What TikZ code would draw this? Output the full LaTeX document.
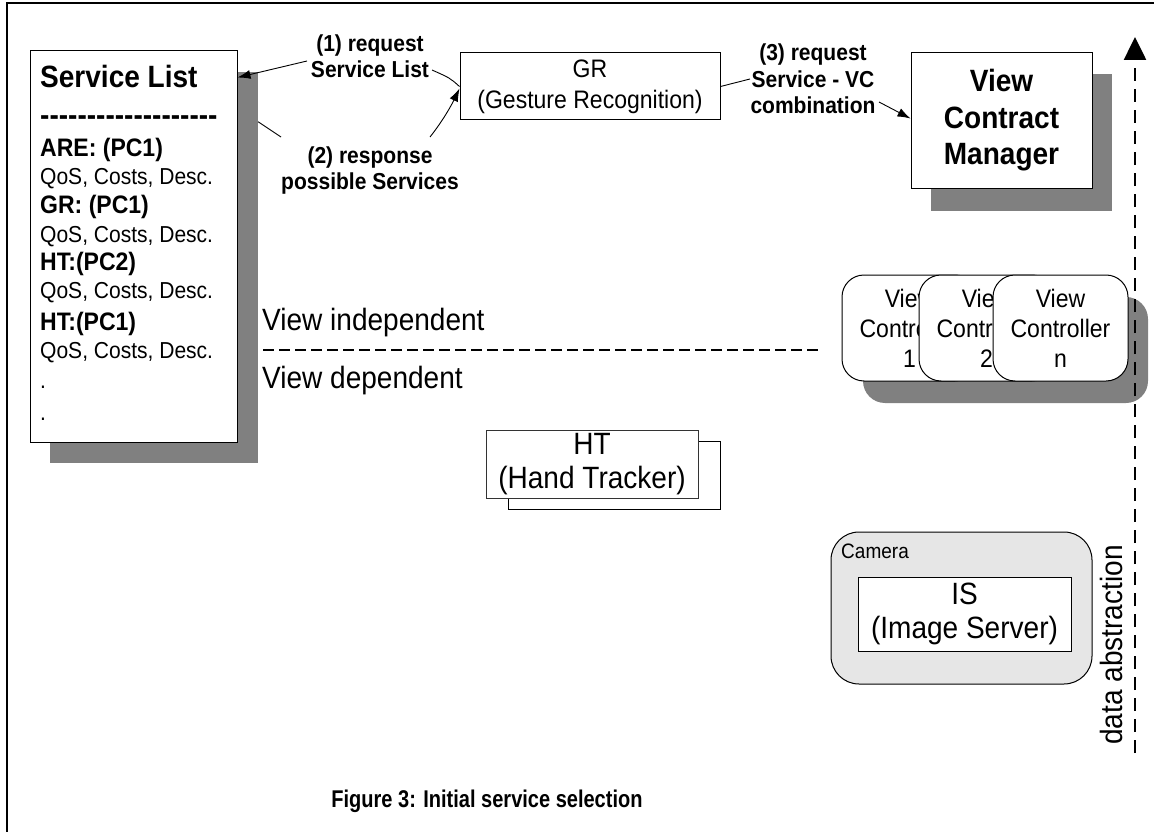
\documentclass[tikz,border=0pt]{standalone}
\usepackage{fontspec}
\setmainfont{Liberation Sans}[Scale=1.1, FakeStretch=0.91]
\newfontfamily\nolig{Liberation Sans}[Ligatures=TeXOff, Scale=1.1, FakeStretch=0.91]
\usetikzlibrary{arrows.meta}
\definecolor{shad}{RGB}{128,128,128}
\definecolor{camfill}{RGB}{230,230,230}
\begin{document}
\begin{tikzpicture}[x=1pt,y=-1pt,
  box/.style={draw=black, line width=1pt, fill=white, inner sep=0pt, align=center},
  shadowbox/.style={fill=shad, draw=none, inner sep=0pt},
  conn/.style={line width=0.9pt},
  arr/.style={line width=0.9pt, -{Latex[length=13pt,width=9pt]}},
  lbl/.style={font=\fontsize{21}{26.5}\selectfont\bfseries, align=center, inner sep=0pt},
  sltxt/.style={anchor=base west, inner sep=0pt, font=\fontsize{21}{25}\selectfont},
  slbold/.style={anchor=base west, inner sep=0pt, font=\fontsize{23}{27}\selectfont\bfseries},
  vcbox/.style={draw=black, line width=1pt, fill=white, rounded corners=22pt, inner sep=0pt,
    minimum width=135pt, minimum height=106pt, align=center, font=\fontsize{23}{30}\selectfont},
]
\useasboundingbox (0,0) rectangle (1154,832);
% frame
\draw[line width=2.5pt] (7,832) -- (7,3) -- (1154,3);

% Service List
\node[shadowbox, minimum width=208pt, minimum height=391pt] (slsh) at (154,267.5) {};
\node[box, minimum width=207pt, minimum height=391pt] (sl) at (133.5,246.5) {};
\node[anchor=base west, inner sep=0pt, font=\fontsize{28}{30}\selectfont\bfseries] (slh) at (40,88) {Service List};
\node[anchor=base west, inner sep=0pt, font=\fontsize{28}{30}\nolig\bfseries] (sld) at (40,126) {-------------------};
\node[slbold] (s1) at (40,157) {ARE: (PC1)};
\node[sltxt] (s2) at (40,184) {QoS, Costs, Desc.};
\node[slbold] (s3) at (40,213) {GR: (PC1)};
\node[sltxt] (s4) at (40,242) {QoS, Costs, Desc.};
\node[slbold] (s5) at (40,270) {HT:(PC2)};
\node[sltxt] (s6) at (40,298) {QoS, Costs, Desc.};
\node[slbold] (s7) at (40,330) {HT:(PC1)};
\node[sltxt] (s8) at (40,358) {QoS, Costs, Desc.};
\node[sltxt] (s9) at (40,388) {.};
\node[sltxt] (s10) at (40,420) {.};

% GR
\node[box, minimum width=260pt, minimum height=67pt, font=\fontsize{23}{31}\selectfont] (gr) at (590,86.5) {GR\\(Gesture Recognition)};

% View Contract Manager
\node[shadowbox, minimum width=181pt, minimum height=137pt] (vcmsh) at (1021.5,142.5) {};
\node[box, minimum width=181pt, minimum height=135pt, font=\fontsize{28}{36.5}\selectfont\bfseries] (vcm) at (1001.5,120.5) {View\\Contract\\Manager};

% labels
\node[lbl] (lbl1) at (370,56) {(1) request\\Service List};
\node[lbl] (lbl2) at (370,170.5) {(2) response\\possible Services};
\node[lbl] (lbl3) at (813,79) {(3) request\\Service - VC\\combination};

% connectors
\coordinate (c1a) at (432,70);
\coordinate (c1b) at (307,61);
\draw[conn] (gr.west) .. controls (450,78) .. (c1a);
\draw[arr] (c1b) -- ([yshift=-27pt]sl.north east);
\coordinate (c2a) at (281,137);
\coordinate (c2b) at (430,137);
\draw[conn] ([yshift=-50pt]slsh.north east) -- (c2a);
\draw[arr] (c2b) .. controls (445,118) and (453,102) .. ([yshift=-2pt]gr.west);
\coordinate (c3a) at (750,79);
\coordinate (c3b) at (879,102);
\draw[conn] (gr.east) -- (c3a);
\draw[arr] (c3b) -- ([yshift=2pt]vcm.west);

% view independent / dependent
\node[anchor=base west, inner sep=0pt, font=\fontsize{28}{30}\selectfont] (vi) at (262,330) {View independent};
\node[anchor=base west, inner sep=0pt, font=\fontsize{28}{30}\selectfont] (vd) at (262,388) {View dependent};
\coordinate (dl1) at (263,350);
\coordinate (dl2) at (818,350);
\draw[line width=1.5pt, dash pattern=on 11pt off 5pt] (dl1) -- (dl2);

% View Controllers
\node[fill=shad, rounded corners=22pt, inner sep=0pt, minimum width=285pt, minimum height=106pt] (vcsh) at (1005.5,350) {};
\node[vcbox] (vc1) at (909.5,328) {View\\Controller\\1};
\node[vcbox] (vc2) at (986.5,328) {View\\Controller\\2};
\node[vcbox] (vcn) at (1060.5,328) {View\\Controller\\n};

% HT
\node[box, minimum width=212pt, minimum height=68pt] (htb) at (614,475) {};
\node[box, draw=black!80, minimum width=212pt, minimum height=68pt, font=\fontsize{28}{34}\selectfont] (ht) at (592,464) {HT\\(Hand Tracker)};

% Camera / IS
\node[draw=black, line width=1pt, fill=camfill, rounded corners=28pt, inner sep=0pt, minimum width=261pt, minimum height=152pt] (cam) at (961.5,608) {};
\node[anchor=base west, inner sep=0pt, font=\fontsize{19}{22}\selectfont] (camlbl) at (841,558) {Camera};
\node[box, minimum width=213pt, minimum height=74pt, font=\fontsize{28}{34}\selectfont] (is) at (964.5,614) {IS\\(Image Server)};

% data abstraction
\coordinate (dab) at (1135,753);
\coordinate (dat) at (1135,37);
\draw[line width=2.6pt, dash pattern=on 13pt off 8pt, -{Triangle[length=23pt,width=22pt]}] (dab) -- (dat);
\node[rotate=90, anchor=base, inner sep=0pt, font=\fontsize{28}{30}\selectfont] (dalbl) at (1122,645) {data abstraction};

% caption
\node[anchor=base, inner sep=0pt, font=\fontsize{22}{26}\selectfont\bfseries] (cap) at (487,807) {\scalebox{0.909}[1]{Figure 3: Initial service selection}};
\end{tikzpicture}
\end{document}
